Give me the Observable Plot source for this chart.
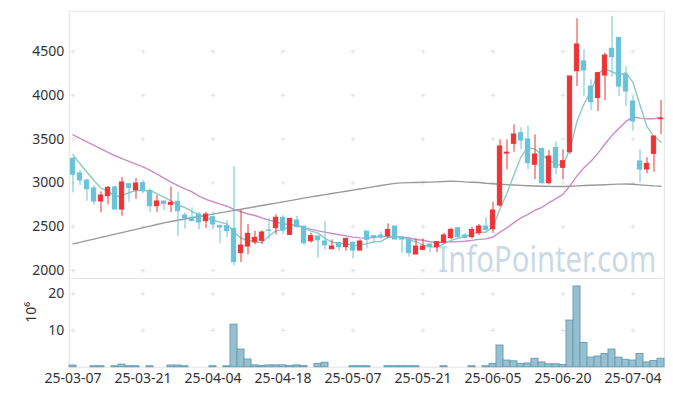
<!DOCTYPE html>
<html><head><meta charset="utf-8">
<script src="https://cdn.jsdelivr.net/npm/d3@7"></script>
<script src="https://cdn.jsdelivr.net/npm/@observablehq/plot@0.6"></script>
<style>
body{margin:0;background:#fff;}
#wrap{position:relative;width:673px;height:396px;overflow:hidden;background:#fff;}
#topPanel,#botPanel{position:absolute;left:0;}
#topPanel{top:0}
#botPanel{top:278px}
</style></head><body><div id="wrap"><div id="topPanel"></div><div id="botPanel"></div></div>
<script>
const dates = ["25-03-07","25-03-10","25-03-11","25-03-12","25-03-13","25-03-14","25-03-17","25-03-18","25-03-19","25-03-20",
"25-03-21","25-03-24","25-03-25","25-03-26","25-03-27","25-03-28","25-03-31","25-04-01","25-04-02","25-04-03",
"25-04-04","25-04-07","25-04-08","25-04-09","25-04-10","25-04-11","25-04-14","25-04-15","25-04-16","25-04-17",
"25-04-18","25-04-21","25-04-22","25-04-23","25-04-24","25-04-25","25-04-28","25-04-29","25-04-30","25-05-02",
"25-05-07","25-05-08","25-05-09","25-05-12","25-05-13","25-05-14","25-05-15","25-05-16","25-05-19","25-05-20",
"25-05-21","25-05-22","25-05-23","25-05-26","25-05-27","25-05-28","25-05-29","25-05-30","25-06-02","25-06-04",
"25-06-05","25-06-09","25-06-10","25-06-11","25-06-12","25-06-13","25-06-16","25-06-17","25-06-18","25-06-19",
"25-06-20","25-06-23","25-06-24","25-06-25","25-06-26","25-06-27","25-06-30","25-07-01","25-07-02","25-07-03",
"25-07-04","25-07-07","25-07-08","25-07-09","25-07-10"];

const open = [3275,3107,3027,2936,2788,2848,2948,2696,2985,2917,
2997,2905,2734,2788,2750,2784,2628,2602,2639,2563,
2608,2510,2506,2476,2198,2274,2323,2339,2457,2483,
2602,2407,2571,2502,2335,2388,2331,2243,2312,2266,
2316,2228,2445,2392,2400,2392,2502,2369,2350,2183,
2236,2297,2266,2316,2369,2483,2400,2380,2426,2502,
2471,2742,3335,3446,3568,3496,3207,3389,2997,3400,
3173,3351,4275,4386,4100,3969,4226,4531,4653,4234,
3929,3245,3153,3332,3727];

const high = [3290,3142,3040,2967,2898,2959,2960,3062,2990,3050,
3024,2928,2856,2790,2951,2894,2659,2716,2662,2666,
2666,2510,2571,3187,2685,2525,2449,2453,2597,2636,
2628,2590,2617,2502,2426,2388,2559,2350,2312,2369,
2323,2350,2445,2400,2440,2533,2502,2369,2380,2361,
2361,2297,2323,2426,2483,2483,2419,2495,2525,2601,
2780,3492,3492,3663,3629,3648,3549,3389,3370,3467,
3378,4215,4874,4520,4177,4253,4481,4900,4653,4329,
3986,3378,3287,3530,3941];

const low = [2887,2970,2791,2746,2659,2750,2696,2620,2780,2814,
2876,2664,2664,2685,2662,2388,2471,2563,2464,2479,
2471,2304,2373,2053,2091,2179,2293,2297,2350,2407,
2407,2407,2483,2285,2312,2145,2236,2243,2220,2220,
2133,2228,2255,2312,2355,2369,2354,2198,2152,2183,
2236,2202,2205,2304,2350,2369,2361,2361,2400,2437,
2426,2723,3150,3350,3378,3150,3039,2978,2978,3096,
3035,3324,4100,3987,3827,3815,3941,4207,3987,3872,
3590,3001,3104,3122,3553];

const close = [3093,3027,2928,2788,2856,2944,2696,3005,2940,2993,
2913,2734,2788,2761,2773,2677,2597,2563,2548,2639,
2525,2491,2449,2095,2285,2419,2373,2434,2453,2602,
2457,2590,2495,2312,2392,2346,2289,2274,2266,2361,
2228,2331,2350,2369,2380,2464,2354,2354,2198,2274,
2274,2266,2323,2400,2464,2380,2373,2464,2502,2464,
2685,3416,3345,3553,3484,3225,3324,2997,3301,3173,
3248,4215,4580,4283,3921,4253,4454,4436,4100,4043,
3701,3153,3218,3530,3735];

// volume in millions
const volume = [0.45,0,0,0.25,0.25,0,0.25,0.7,0.25,0.25,
0,0.25,0,0,0.45,0.45,0.25,0,0,0,
0.25,0,0.25,11.6,4.8,2.1,0.5,0.3,0.5,0.5,
0.5,0.3,0.5,0.3,0,0.9,1.2,0,0,0,
0.25,0.25,0.25,0,0,0.25,0.25,0.25,0.25,0.25,
0,0,0,0.25,0,0,0,0.25,0,0.25,
0.9,5.9,1.8,1.6,0.9,1.0,2.3,1.3,0.8,0.8,
0.6,12.7,22.0,6.6,2.6,2.9,3.6,4.8,2.6,2.0,
1.8,3.6,1.3,1.7,2.3];

const ma5 = [3321,3218,3122,3027,2938,2909,2842,2858,2888,2916,
2909,2917,2874,2838,2794,2747,2719,2674,2632,2605,
2574,2553,2530,2440,2369,2348,2324,2321,2393,2456,
2464,2507,2519,2491,2449,2427,2367,2323,2313,2307,
2284,2292,2307,2328,2332,2379,2383,2384,2350,2329,
2291,2273,2267,2307,2345,2367,2388,2416,2437,2437,
2498,2706,2882,3093,3297,3405,3386,3317,3266,3204,
3209,3387,3703,3900,4049,4250,4298,4269,4233,4257,
4147,3887,3643,3529,3467];

const ma20 = [3549,3509,3469,3429,3389,3349,3310,3278,3246,3214,
3182,3145,3100,3055,3010,2968,2933,2898,2850,2813,
2785,2758,2734,2699,2671,2645,2628,2600,2576,2556,
2533,2526,2511,2489,2470,2453,2438,2423,2409,2395,
2381,2373,2368,2381,2386,2388,2387,2383,2371,2354,
2345,2329,2320,2325,2328,2330,2334,2344,2355,2361,
2383,2438,2487,2547,2602,2640,2688,2721,2776,2821,
2869,2967,3080,3174,3247,3340,3444,3543,3623,3702,
3753,3739,3733,3732,3745];

const ma120 = [2304,2322,2341,2359,2378,2396,2415,2433,2452,2470,
2489,2507,2526,2544,2560,2574,2588,2602,2616,2630,
2644,2658,2672,2686,2700,2714,2728,2742,2756,2770,
2784,2798,2812,2826,2840,2853,2866,2879,2892,2905,
2918,2931,2944,2957,2970,2983,2995,3000,3003,3005,
3007,3009,3012,3016,3020,3018,3012,3008,3004,2996,
2990,2985,2980,2976,2972,2968,2965,2962,2960,2959,
2959,2962,2966,2970,2973,2976,2979,2983,2986,2987,
2985,2978,2972,2966,2962];

const xTicks = ["25-03-07","25-03-21","25-04-04","25-04-18","25-05-07","25-05-21","25-06-05","25-06-20","25-07-04"];
const yTicks = [2000,2500,3000,3500,4000,4500];
const volTicks = [10,20];
const watermark = "InfoPointer.com";
const volUnit = "10⁶";

const UP = "#ec3437", DOWN = "#68c3d9";
const rows = dates.map((d,i)=>({d, o:open[i], h:high[i], l:low[i], c:close[i], v:volume[i], m5:ma5[i], m20:ma20[i], m120:ma120[i]}));
const col = r => r.c >= r.o ? UP : DOWN;

const font = "'Noto Sans', sans-serif";
const common = {width:673, marginLeft:68.8, marginRight:9.2};
const gridTop = xTicks.flatMap(x => yTicks.map(y => ({x, y})));
const gridBot = xTicks.flatMap(x => volTicks.map(y => ({x, y})));

const priceChart = Plot.plot({
  ...common, height:278, marginTop:10.7, marginBottom:0,
  style:{fontFamily:font, fontSize:"14px", color:"#333", background:"transparent"},
  x:{type:"band", domain:dates, padding:0, axis:null},
  y:{domain:[1909,4960], ticks:yTicks, tickFormat:d=>String(d), tickSize:0, tickPadding:5, label:null},
  marks:[
    Plot.frame({stroke:"#e3e3e3"}),
    Plot.dot(gridTop, {x:"x", y:"y", symbol:"plus", r:1.6, stroke:"#e2e2e2", strokeWidth:1}),
    Plot.text([watermark], {text:d=>d, frameAnchor:"bottom-right", dx:-8, dy:-7, fontSize:36, fill:"#c9dae5", fontFamily:font, className:"wm"}),
    Plot.line(rows, {x:"d", y:"m120", stroke:"#9a9a9a", strokeWidth:1.4}),
    Plot.line(rows, {x:"d", y:"m20", stroke:"#cc8cc6", strokeWidth:1.4}),
    Plot.line(rows, {x:"d", y:"m5", stroke:"#8bcbc3", strokeWidth:1.4}),
    Plot.ruleX(rows, {x:"d", y1:"l", y2:"h", stroke:col, strokeWidth:1}),
    Plot.barY(rows, {x:"d", y1:"o", y2:"c", fill:col, stroke:col, strokeWidth:1, insetLeft:1.35, insetRight:1.35})
  ]
});
// condense watermark to the reference's width
priceChart.querySelectorAll(".wm text").forEach(t => { t.setAttribute("textLength", "218"); t.setAttribute("lengthAdjust", "spacingAndGlyphs"); });
document.getElementById("topPanel").appendChild(priceChart);

const volumeChart = Plot.plot({
  ...common, height:118, marginTop:0, marginBottom:29.3,
  style:{fontFamily:font, fontSize:"14px", color:"#333", background:"transparent"},
  x:{type:"band", domain:dates, padding:0, ticks:xTicks, tickSize:0, tickPadding:6, label:null},
  y:{domain:[0,24.17], ticks:volTicks, tickSize:0, tickPadding:5, label:null},
  marks:[
    Plot.frame({stroke:"#e3e3e3"}),
    Plot.dot(gridBot, {x:"x", y:"y", symbol:"plus", r:1.6, stroke:"#e2e2e2", strokeWidth:1}),
    Plot.barY(rows, {x:"d", y:"v", fill:"#96bfcf", stroke:"#6b9fb4", strokeWidth:1}),
    Plot.text([volUnit], {text:d=>d, frameAnchor:"left", dx:-38, rotate:-90, fontSize:14, fill:"#333", fontFamily:font})
  ]
});
document.getElementById("botPanel").appendChild(volumeChart);
</script>
</body></html>
